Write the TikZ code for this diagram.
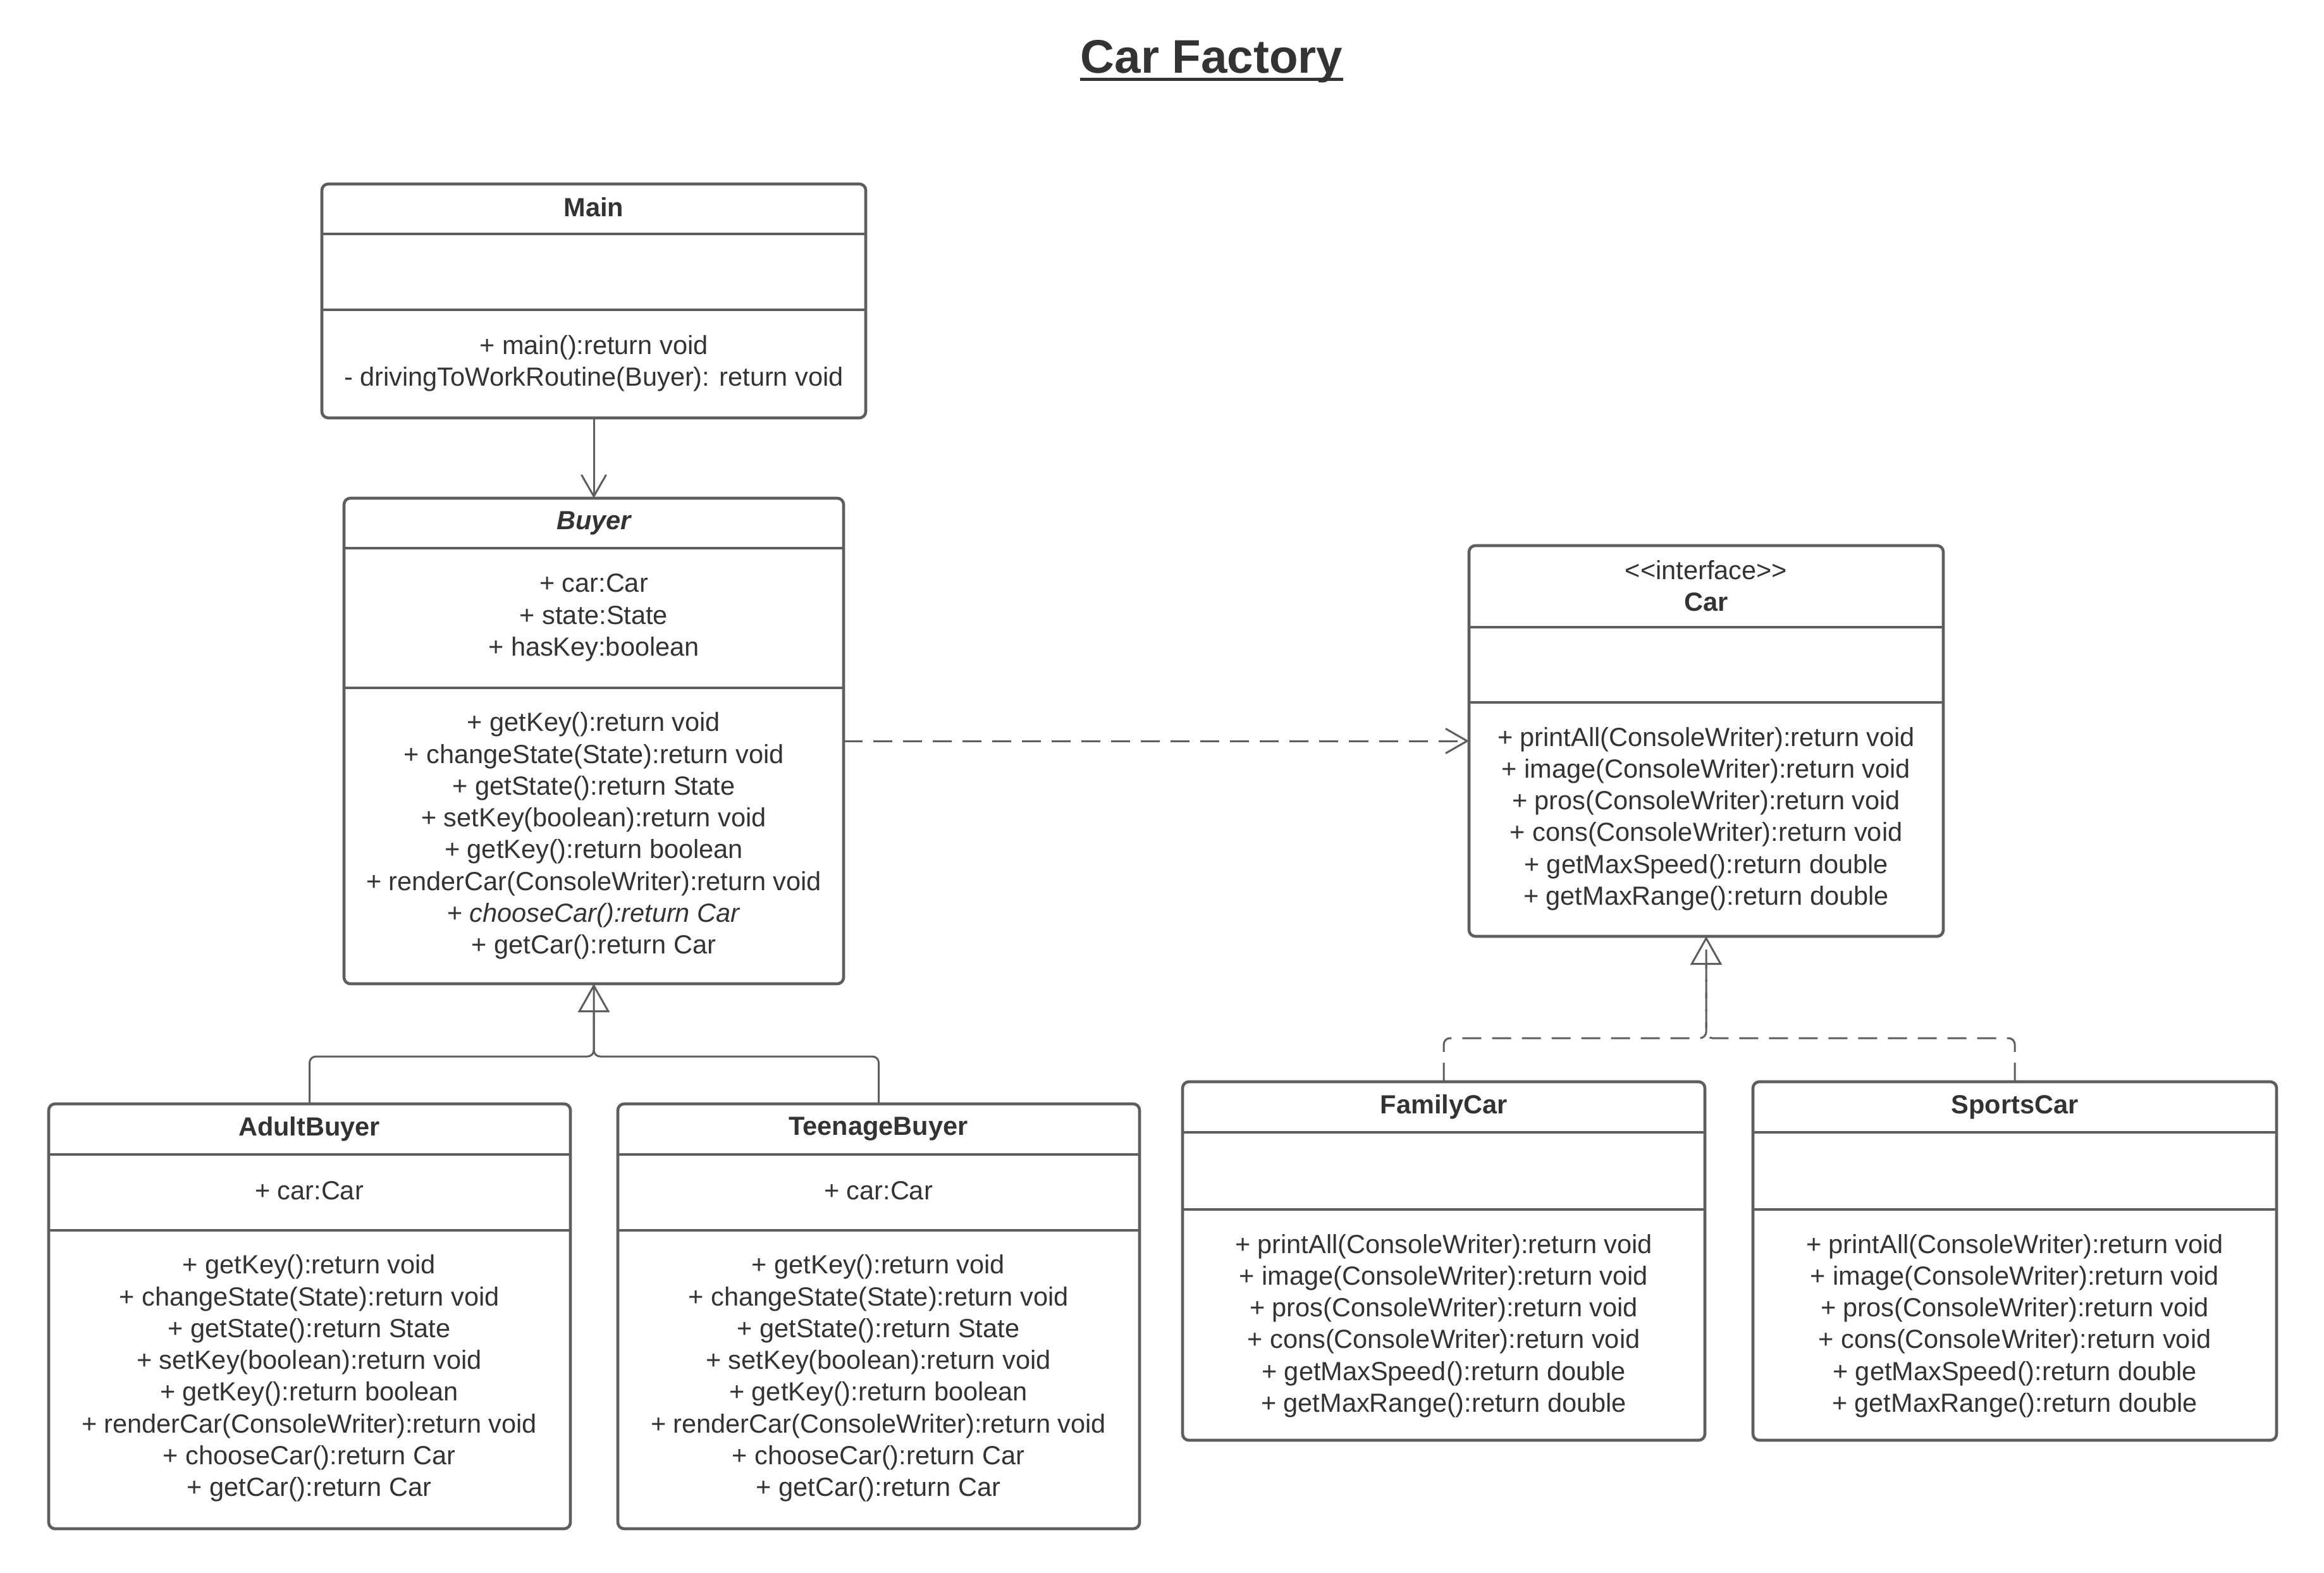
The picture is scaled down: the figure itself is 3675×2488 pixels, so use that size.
\documentclass[tikz,border=0pt]{standalone}
\usepackage{fontspec}
\setmainfont{Liberation Sans}
\usetikzlibrary{arrows.meta,fit}
\definecolor{linec}{HTML}{5E5E5E}
\definecolor{textc}{HTML}{333333}
\begin{document}
\begin{tikzpicture}[x=0.01cm,y=-0.01cm,
  classbox/.style={draw=linec, line width=0.046cm, rounded corners=0.1cm, inner sep=0pt, outer sep=0pt},
  divider/.style={draw=linec, line width=0.046cm},
  txt/.style={text=textc, font=\fontsize{11.8}{14.3}\selectfont, align=center, inner sep=0pt, yshift=-0.05cm},
  ttl/.style={text=textc, font=\bfseries\fontsize{11.8}{14.3}\selectfont, align=center, inner sep=0pt, yshift=-0.05cm},
  conn/.style={draw=linec, line width=0.03cm},
  dashline/.style={dash pattern=on 0.3cm off 0.17cm},
  assoc/.style={conn, -{Straight Barb[length=0.34cm,width=0.39cm]}},
  gen/.style={conn, rounded corners=0.1cm, -{Triangle[open,length=0.45cm,width=0.5cm]}},
  genline/.style={conn, rounded corners=0.1cm}
]
\useasboundingbox (0,0) rectangle (3675,2488);
\fill[white] (0,0) rectangle (3675,2488);

% title
\node[text=textc, font=\bfseries\fontsize{21.2}{25}\selectfont, inner sep=0pt, anchor=base] (title) at (1916,116) {Car Factory};
\draw[draw=textc, line width=0.05cm] ([yshift=-0.09cm]title.base west) -- ([yshift=-0.09cm]title.base east);

% Main
\node[classbox, fit={(509,291) (1369,661)}] (main) {};
\draw[divider] (main.west |- 0,370) -- (main.east |- 0,370);
\draw[divider] (main.west |- 0,490) -- (main.east |- 0,490);
\node[ttl] (mainT) at (939,323) {Main};
\node[txt] (mainO) at (939,570) {+ main():return void\\- drivingToWorkRoutine(Buyer): return void};

% Buyer
\node[classbox, fit={(544,788) (1334,1556)}] (buyer) {};
\draw[divider] (buyer.west |- 0,867) -- (buyer.east |- 0,867);
\draw[divider] (buyer.west |- 0,1088) -- (buyer.east |- 0,1088);
\node[ttl] (buyerT) at (939,823) {\itshape Buyer};
\node[txt] (buyerA) at (939,972) {+ car:Car\\+ state:State\\+ hasKey:boolean};
\node[txt] (buyerO) at (939,1317) {+ getKey():return void\\+ changeState(State):return void\\+ getState():return State\\+ setKey(boolean):return void\\+ getKey():return boolean\\+ renderCar(ConsoleWriter):return void\\+ \textit{chooseCar():return Car}\\+ getCar():return Car};

% Car interface
\node[classbox, fit={(2323,863) (3073,1481)}] (car) {};
\draw[divider] (car.west |- 0,992) -- (car.east |- 0,992);
\draw[divider] (car.west |- 0,1111) -- (car.east |- 0,1111);
\node[txt] (carT) at (2698,922) {<{}<interface>{}>\\\textbf{Car}};
\node[txt] (carO) at (2698,1290) {+ printAll(ConsoleWriter):return void\\+ image(ConsoleWriter):return void\\+ pros(ConsoleWriter):return void\\+ cons(ConsoleWriter):return void\\+ getMaxSpeed():return double\\+ getMaxRange():return double};

% AdultBuyer
\node[classbox, fit={(77,1746) (902,2418)}] (adult) {};
\draw[divider] (adult.west |- 0,1826) -- (adult.east |- 0,1826);
\draw[divider] (adult.west |- 0,1946) -- (adult.east |- 0,1946);
\node[ttl] (adultT) at (489,1781) {AdultBuyer};
\node[txt] (adultA) at (489,1878) {+ car:Car};
\node[txt] (adultO) at (489,2175) {+ getKey():return void\\+ changeState(State):return void\\+ getState():return State\\+ setKey(boolean):return void\\+ getKey():return boolean\\+ renderCar(ConsoleWriter):return void\\+ chooseCar():return Car\\+ getCar():return Car};

% TeenageBuyer
\node[classbox, fit={(977,1746) (1802,2418)}] (teen) {};
\draw[divider] (teen.west |- 0,1826) -- (teen.east |- 0,1826);
\draw[divider] (teen.west |- 0,1946) -- (teen.east |- 0,1946);
\node[ttl] (teenT) at (1389,1781) {TeenageBuyer};
\node[txt] (teenA) at (1389,1878) {+ car:Car};
\node[txt] (teenO) at (1389,2175) {+ getKey():return void\\+ changeState(State):return void\\+ getState():return State\\+ setKey(boolean):return void\\+ getKey():return boolean\\+ renderCar(ConsoleWriter):return void\\+ chooseCar():return Car\\+ getCar():return Car};

% FamilyCar
\node[classbox, fit={(1870,1711) (2696,2278)}] (family) {};
\draw[divider] (family.west |- 0,1791) -- (family.east |- 0,1791);
\draw[divider] (family.west |- 0,1913) -- (family.east |- 0,1913);
\node[ttl] (familyT) at (2283,1746) {FamilyCar};
\node[txt] (familyO) at (2283,2092) {+ printAll(ConsoleWriter):return void\\+ image(ConsoleWriter):return void\\+ pros(ConsoleWriter):return void\\+ cons(ConsoleWriter):return void\\+ getMaxSpeed():return double\\+ getMaxRange():return double};

% SportsCar
\node[classbox, fit={(2772,1711) (3600,2278)}] (sports) {};
\draw[divider] (sports.west |- 0,1791) -- (sports.east |- 0,1791);
\draw[divider] (sports.west |- 0,1913) -- (sports.east |- 0,1913);
\node[ttl] (sportsT) at (3186,1746) {SportsCar};
\node[txt] (sportsO) at (3186,2092) {+ printAll(ConsoleWriter):return void\\+ image(ConsoleWriter):return void\\+ pros(ConsoleWriter):return void\\+ cons(ConsoleWriter):return void\\+ getMaxSpeed():return double\\+ getMaxRange():return double};

% connectors
\draw[assoc] (main.south) -- (buyer.north);
\draw[assoc, dashline] (buyer.east) -- (car.west);
\draw[genline] (teen.north) |- (buyer.south |- 0,1671) -- (buyer.south);
\draw[gen] (adult.north) |- (buyer.south |- 0,1671) -- (buyer.south);
\draw[genline, dashline] (sports.north) |- (car.south |- 0,1642) -- (car.south);
\draw[gen, dashline] (family.north) |- (car.south |- 0,1642) -- (car.south);
\end{tikzpicture}
\end{document}
